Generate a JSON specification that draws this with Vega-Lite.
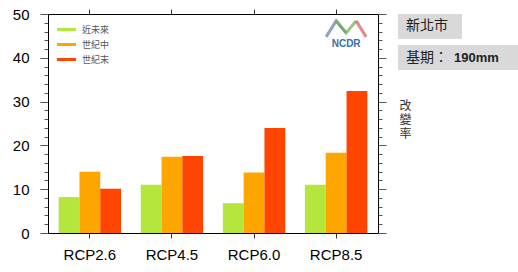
{
  "$schema": "https://vega.github.io/schema/vega-lite/v6.json",
  "autosize": {"type": "pad"},
  "padding": {"left": 12, "top": -38, "right": 0, "bottom": 10},
  "background": "white",
  "bounds": "flush",
  "spacing": 20,
  "config": {"view": {"stroke": null}, "font": "Liberation Sans"},
  "hconcat": [
    {
      "width": 330,
      "height": 219,
      "data": {"values": [
        {"scenario": "RCP2.6", "period": "近未來", "value": 8.2},
        {"scenario": "RCP2.6", "period": "世紀中", "value": 14.0},
        {"scenario": "RCP2.6", "period": "世紀末", "value": 10.1},
        {"scenario": "RCP4.5", "period": "近未來", "value": 11.0},
        {"scenario": "RCP4.5", "period": "世紀中", "value": 17.4},
        {"scenario": "RCP4.5", "period": "世紀末", "value": 17.6},
        {"scenario": "RCP6.0", "period": "近未來", "value": 6.8},
        {"scenario": "RCP6.0", "period": "世紀中", "value": 13.8},
        {"scenario": "RCP6.0", "period": "世紀末", "value": 24.0},
        {"scenario": "RCP8.5", "period": "近未來", "value": 11.0},
        {"scenario": "RCP8.5", "period": "世紀中", "value": 18.3},
        {"scenario": "RCP8.5", "period": "世紀末", "value": 32.4}
      ]},
      "resolve": {"axis": {"x": "independent", "y": "independent"}},
      "layer": [
        {
          "mark": {"type": "bar"},
          "encoding": {
            "x": {
              "field": "scenario", "type": "nominal",
              "sort": ["RCP2.6", "RCP4.5", "RCP6.0", "RCP8.5"],
              "scale": {"paddingInner": 0.24, "paddingOuter": 0.13},
              "axis": {"orient": "bottom", "title": null, "labelAngle": 0, "labelFontSize": 15, "labelColor": "#000",
                       "tickSize": 5, "tickColor": "#333", "domainColor": "#000", "labelPadding": 9}
            },
            "xOffset": {"field": "period", "type": "nominal", "sort": ["近未來", "世紀中", "世紀末"],
                        "scale": {"paddingInner": 0, "paddingOuter": 0}},
            "y": {
              "field": "value", "type": "quantitative",
              "scale": {"domain": [0, 50], "nice": false},
              "axis": {"orient": "left", "title": null, "grid": false,
                       "values": [0,2,4,6,8,10,12,14,16,18,20,22,24,26,28,30,32,34,36,38,40,42,44,46,48,50],
                       "labelExpr": "datum.value % 10 === 0 ? datum.label : ''",
                       "tickSize": {"condition": {"test": "datum.value % 10 === 0", "value": 8}, "value": 4},
                       "tickColor": "#555", "domainColor": "#000", "labelFontSize": 15, "labelColor": "#000", "labelPadding": 11}
            },
            "color": {
              "field": "period", "type": "nominal",
              "scale": {"domain": ["近未來", "世紀中", "世紀末"], "range": ["#b4e63c", "#ffa500", "#ff4500"]},
              "legend": {"orient": "none", "legendX": 9, "legendY": 6, "title": null,
                         "symbolType": "M-1,-0.16 L1,-0.16 L1,0.16 L-1,0.16 Z",
                         "symbolSize": 361, "symbolStrokeWidth": 0, "labelFontSize": 9, "labelColor": "#555",
                         "labelOffset": 6, "rowPadding": -5, "padding": 0, "labelFont": "Noto Sans CJK TC"}
            }
          }
        },
        {
          "mark": {"type": "bar", "opacity": 0},
          "encoding": {
            "x": {
              "field": "scenario", "type": "nominal",
              "sort": ["RCP2.6", "RCP4.5", "RCP6.0", "RCP8.5"],
              "axis": {"orient": "top", "title": null, "labels": false, "tickSize": 5, "tickColor": "#333", "domainColor": "#000"}
            },
            "y": {
              "field": "value", "type": "quantitative",
              "axis": {"orient": "right", "grid": false, "labels": false,
                       "values": [0,2,4,6,8,10,12,14,16,18,20,22,24,26,28,30,32,34,36,38,40,42,44,46,48,50],
                       "tickSize": {"condition": {"test": "datum.value % 10 === 0", "value": 8}, "value": 4},
                       "tickColor": "#555", "domainColor": "#000",
                       "title": ["改", "變", "率"], "titleAngle": 0, "titleX": 27, "titleY": 86,
                       "titleAlign": "center", "titleBaseline": "top", "titleFontSize": 12, "titleLineHeight": 14,
                       "titleFontWeight": "normal", "titleColor": "#333", "titleFont": "Noto Sans CJK TC"}
            }
          }
        },
        {
          "data": {"values": [{}]},
          "mark": {"type": "point", "shape": "M-1,0.4 L-0.5,-0.4 L0,0.2", "filled": false, "stroke": "#5b7fa3", "strokeWidth": 3, "size": 1600, "xOffset": 10},
          "encoding": {"x": {"datum": "RCP8.5", "type": "nominal", "axis": null}, "y": {"datum": 46.6, "type": "quantitative", "axis": null}}
        },
        {
          "data": {"values": [{}]},
          "mark": {"type": "point", "shape": "M-0.5,-0.4 L0,0.2 L0.5,-0.4", "filled": false, "stroke": "#6ab04c", "strokeWidth": 3, "size": 1600, "xOffset": 10},
          "encoding": {"x": {"datum": "RCP8.5", "type": "nominal", "axis": null}, "y": {"datum": 46.6, "type": "quantitative", "axis": null}}
        },
        {
          "data": {"values": [{}]},
          "mark": {"type": "point", "shape": "M0.5,-0.4 L1,0.4", "filled": false, "stroke": "#d65a5a", "strokeWidth": 3, "size": 1600, "xOffset": 10},
          "encoding": {"x": {"datum": "RCP8.5", "type": "nominal", "axis": null}, "y": {"datum": 46.6, "type": "quantitative", "axis": null}}
        },
        {
          "data": {"values": [{"logo": "NCDR"}]},
          "mark": {"type": "text", "fontSize": 10, "fontWeight": "bold", "color": "#3a6ea5", "xOffset": 10, "font": "Liberation Sans"},
          "encoding": {"x": {"datum": "RCP8.5", "type": "nominal", "axis": null}, "y": {"datum": 43.2, "type": "quantitative", "axis": null}, "text": {"field": "logo"}}
        }
      ]
    },
    {
      "width": 122,
      "height": 56,
      "data": {"values": [
        {"row": "a", "w": 64, "t1": "新北市", "t2": ""},
        {"row": "b", "w": 122, "t1": "基期：", "t2": "190mm"}
      ]},
      "encoding": {
        "y": {"field": "row", "type": "nominal", "axis": null, "scale": {"paddingInner": 0.2, "paddingOuter": 0}}
      },
      "layer": [
        {
          "mark": {"type": "bar", "color": "#d9d9d9"},
          "encoding": {"x": {"field": "w", "type": "quantitative", "axis": null, "scale": {"domain": [0, 122], "nice": false}}}
        },
        {
          "mark": {"type": "text", "align": "left", "baseline": "middle", "dx": 8, "fontSize": 14, "color": "#222", "font": "Noto Sans CJK TC"},
          "encoding": {"x": {"datum": 0, "type": "quantitative", "axis": null}, "text": {"field": "t1"}}
        },
        {
          "mark": {"type": "text", "align": "left", "baseline": "middle", "dx": 56, "fontSize": 13, "fontWeight": "bold", "color": "#222", "font": "Liberation Sans"},
          "encoding": {"x": {"datum": 0, "type": "quantitative", "axis": null}, "text": {"field": "t2"}}
        }
      ]
    }
  ]
}
